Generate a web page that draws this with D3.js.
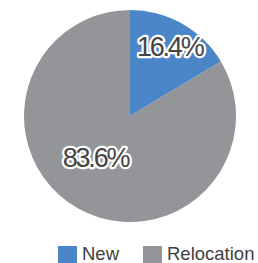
<!DOCTYPE html>
<html>
<head>
<meta charset="utf-8">
<script src="https://cdn.jsdelivr.net/npm/d3@7"></script>
<style>
body{margin:0;background:#fff;}
svg{display:block;font-family:"Liberation Sans",Arial,sans-serif;}
</style>
</head>
<body>
<div id="chart"></div>
<script>
// data
var categories = ["New", "Relocation"];
var shares = [16.4, 83.6];
var colors = ["#4a86c8", "#939598"];

var w = 258, h = 263,
    cx = 130, cy = 116, r = 106;

var svg = d3.select('#chart')
  .append("svg")
  .attr("width", w)
  .attr("height", h);

var pie = d3.pie().sort(null).value(function(d){ return d; });
var arcs = pie(shares);
var arc = d3.arc().innerRadius(0).outerRadius(r);

var g = svg.append("g").attr("transform", "translate(" + cx + "," + cy + ")");

g.selectAll("path")
  .data(arcs)
  .enter().append("path")
  .attr("d", arc)
  .attr("fill", function(d, i){ return colors[i]; });

// label placement, tuned by eye
var labelR = [r * 0.76, r * 0.45];
var labelDx = [0, -11];

g.selectAll("text.lbl")
  .data(arcs)
  .enter().append("text")
  .attr("class", "lbl")
  .attr("transform", function(d, i){
    var c = d3.arc().innerRadius(labelR[i]).outerRadius(labelR[i]).centroid(d);
    return "translate(" + (c[0] + labelDx[i]) + "," + c[1] + ")";
  })
  .attr("text-anchor", "middle")
  .attr("dy", "0.36em")
  .attr("font-size", 27)
  .attr("letter-spacing", -2.2)
  .attr("fill", "#444")
  .attr("stroke", "#fff")
  .attr("stroke-width", 4.5)
  .attr("stroke-linejoin", "round")
  .attr("paint-order", "stroke")
  .text(function(d){ return d.data.toFixed(1) + "%"; });

// legend
var legendX = d3.scaleOrdinal().domain(categories).range([58, 143]);
var legend = svg.selectAll("g.leg")
  .data(categories)
  .enter().append("g")
  .attr("class", "leg")
  .attr("transform", function(d){ return "translate(" + legendX(d) + ",246)"; });

legend.append("rect")
  .attr("width", 19).attr("height", 19)
  .attr("fill", function(d, i){ return colors[i]; });

legend.append("text")
  .attr("x", 24)
  .attr("y", 14)
  .attr("font-size", 18.5)
  .attr("fill", "#404040")
  .text(function(d){ return d; });
</script>
</body>
</html>
